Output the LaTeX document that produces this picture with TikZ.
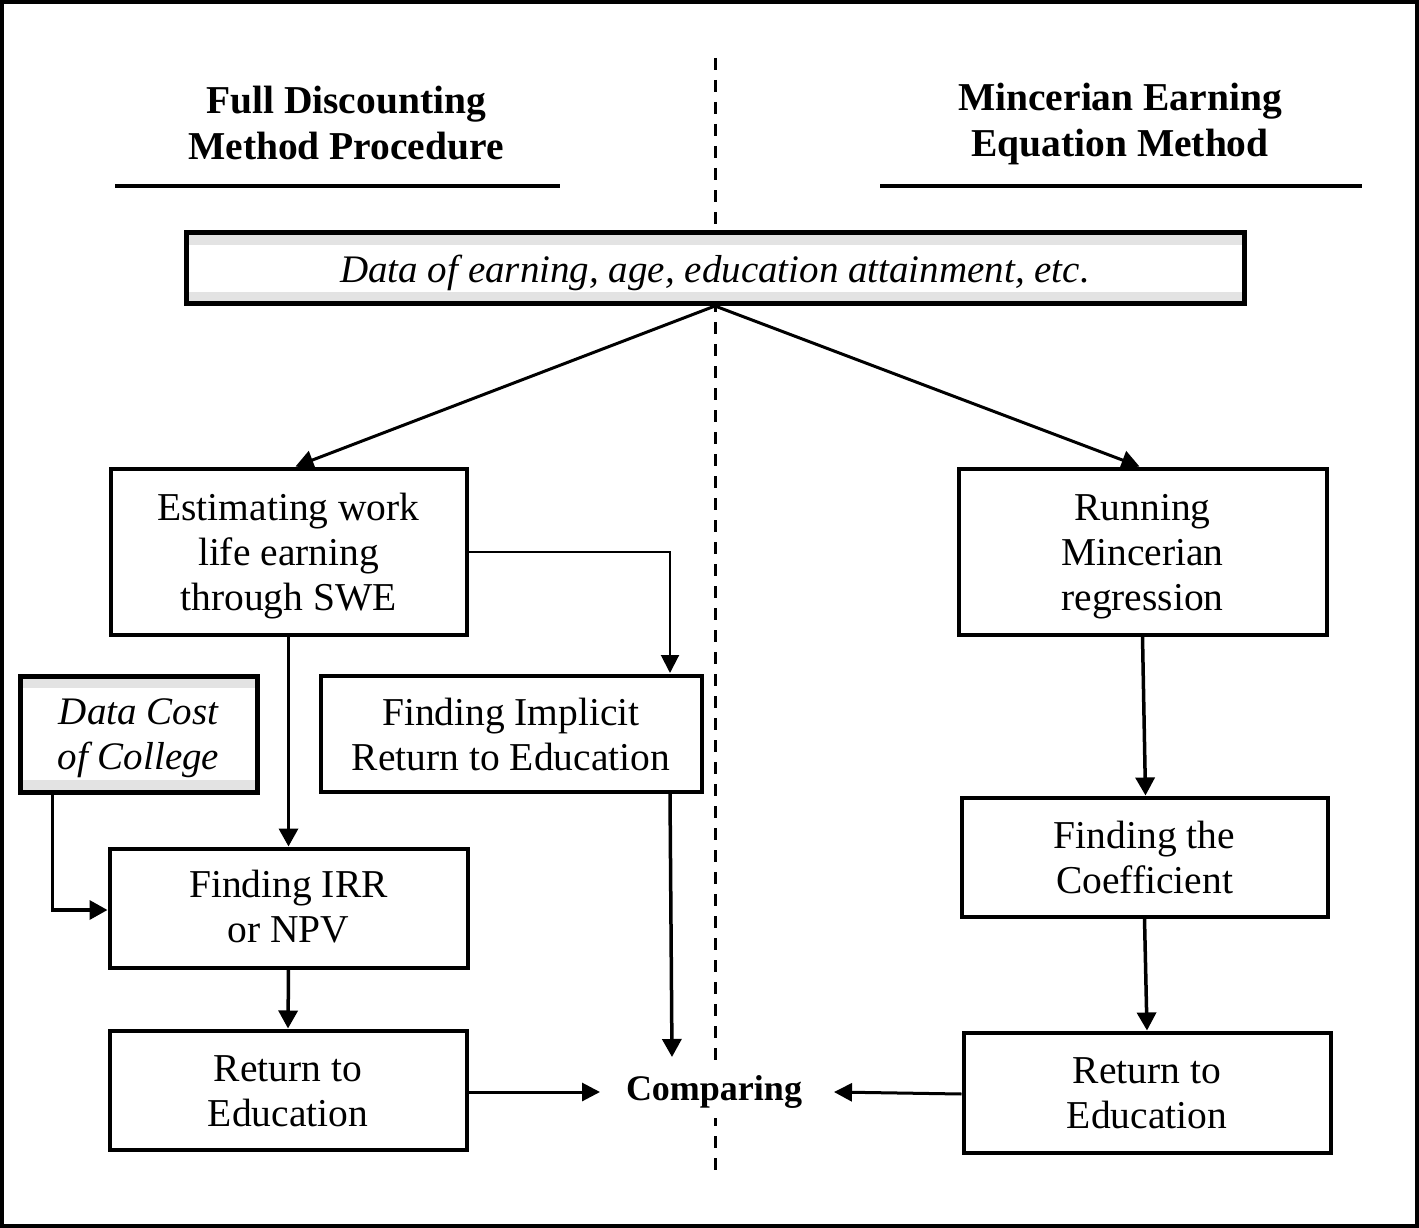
\documentclass[tikz,border=0pt]{standalone}
\usepackage{fontspec}
\setmainfont{Liberation Serif}
\usetikzlibrary{arrows.meta}
\begin{document}
\begin{tikzpicture}[x=1pt,y=-1pt,
  box/.style={draw, fill=white, line width=4pt, inner sep=0pt},
  databox/.style={box, line width=5pt,
    path picture={
      \fill[black!11] (path picture bounding box.north west) rectangle ([yshift=-12pt]path picture bounding box.north east);
      \fill[black!11] (path picture bounding box.south west) rectangle ([yshift=12pt]path picture bounding box.south east);
    }},
  txt/.style={align=center, inner sep=0pt, font=\fontsize{39.5}{45}\selectfont},
  itxt/.style={txt, font=\fontsize{39}{45}\selectfont\itshape},
  head/.style={align=center, font=\fontsize{39.5}{46}\selectfont\bfseries, inner sep=0pt},
  arr/.style={line width=3.5pt, -{Triangle[length=18pt,width=19pt]}},
  thinarr/.style={line width=2pt, -{Triangle[length=18pt,width=18pt]}}
]
\useasboundingbox (0,0) rectangle (1419,1228);
\draw[line width=4pt] (2,2) rectangle (1417,1226);
% dashed divider
\coordinate (dtop) at (715,58);
\coordinate (dbot) at (715,1172);
\draw[line width=3pt, dash pattern=on 12pt off 10pt] (dtop) -- (dbot);
% headings
\node[head] (hl) at (346,123) {Full Discounting\\Method Procedure};
\node[head] (hr) at (1120,124) {Mincerian Earning\\Equation Method};
\coordinate (ul1) at (115,186); \coordinate (ul2) at (560,186);
\coordinate (ur1) at (880,186); \coordinate (ur2) at (1362,186);
\draw[line width=4pt] (ul1) -- (ul2);
\draw[line width=4pt] (ur1) -- (ur2);
% data box
\node[databox, minimum width=1058pt, minimum height=71pt] (data) at (715,268) {};
\node[itxt] (dataT) at ([yshift=-5pt]data.center) {Data of earning, age, education attainment, etc.};
% left column
\node[box, minimum width=356pt, minimum height=166pt] (est) at (288.5,551.5) {};
\node[txt] (estT) at ([yshift=-5pt]est.center) {Estimating work\\life earning\\through SWE};
\node[databox, minimum width=237pt, minimum height=116pt] (dc) at (138.5,734) {};
\node[itxt] (dcT) at ([yshift=-4pt]dc.center) {Data Cost\\of College};
\node[box, minimum width=381pt, minimum height=116pt] (fi) at (511,733.5) {};
\node[txt] (fiT) at ([yshift=-1pt]fi.center) {Finding Implicit\\Return to Education};
\node[box, minimum width=358pt, minimum height=119pt] (irr) at (288.5,908) {};
\node[txt] (irrT) at ([yshift=1pt]irr.center) {Finding IRR\\or NPV};
\node[box, minimum width=357pt, minimum height=119pt] (re1) at (288,1090) {};
\node[txt] (re1T) at ([yshift=-1pt]re1.center) {Return to\\Education};
% right column
\node[box, minimum width=368pt, minimum height=166pt] (run) at (1142.5,551.5) {};
\node[txt] (runT) at ([yshift=-5pt]run.center) {Running\\Mincerian\\regression};
\node[box, minimum width=366pt, minimum height=119pt] (fc) at (1144.5,857) {};
\node[txt] (fcT) at ([yshift=0pt]fc.center) {Finding the\\Coefficient};
\node[box, minimum width=367pt, minimum height=120pt] (re2) at (1147,1092.5) {};
\node[txt] (re2T) at ([yshift=-1pt]re2.center) {Return to\\Education};
% comparing
\node[font=\fontsize{36}{42}\selectfont\bfseries, fill=white, inner xsep=2pt, inner ysep=10pt] (cmp) at (714,1092) {Comparing};
% connectors
\draw[line width=3pt, -{Triangle[length=18pt,width=19pt]}] (data.south) -- ([xshift=7pt]est.north);
\draw[line width=3pt, -{Triangle[length=18pt,width=19pt]}] (data.south) -- ([xshift=-3pt]run.north);
\draw[thinarr] (est.east |- 0,552) -| (670,673);
\draw[arr] (est.south) -- (irr.north);
\draw[arr] ([xshift=-86pt]dc.south) |- (irr.west |- 0,910);
\draw[arr] (irr.south) -- (re1.north);
\draw[thinarr, line width=3pt] (re1.east |- 0,1092) -- (600,1092);
\draw[arr] ([xshift=159pt]fi.south) -- (672,1057);
\draw[arr] (run.south) -- ([xshift=1pt]fc.north);
\draw[arr] (fc.south) -- (re2.north);
\draw[thinarr, line width=3pt] (re2.west |- 0,1094) -- (834,1092);
\end{tikzpicture}
\end{document}
